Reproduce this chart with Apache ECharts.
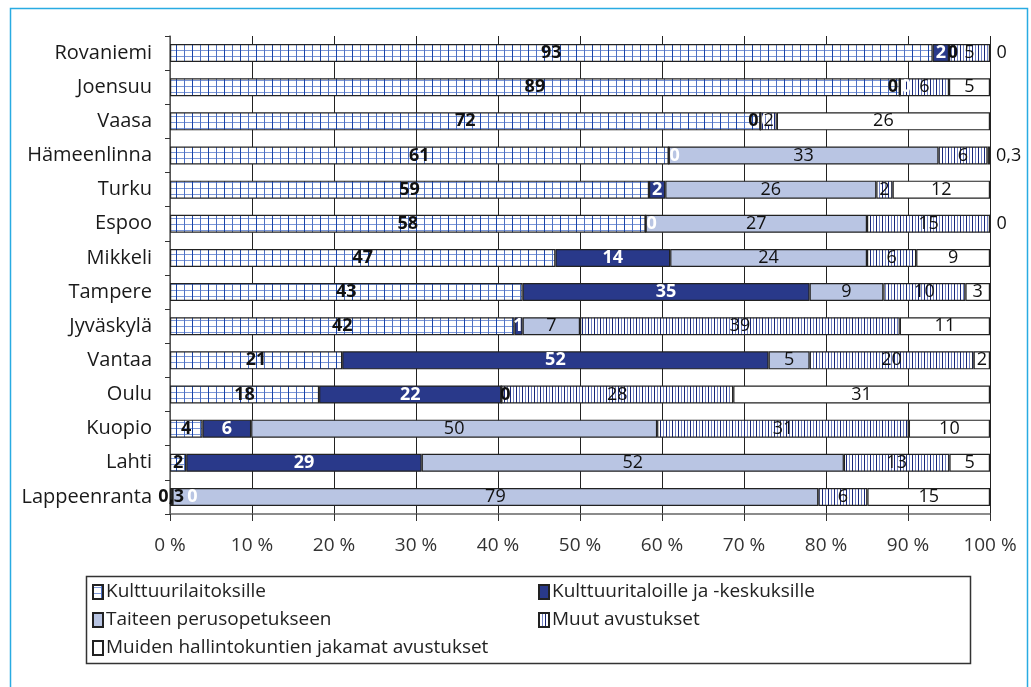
<!DOCTYPE html>
<html>
<head>
<meta charset="utf-8">
<script src="https://cdn.jsdelivr.net/npm/echarts@6/dist/echarts.min.js"></script>
<style>
  html, body { margin: 0; padding: 0; background: #fff; }
  #chart { width: 1031px; height: 687px; }
</style>
</head>
<body>
<div id="chart"></div>
<script>
// kaupungit ylhäältä alas
const cities = ['Rovaniemi', 'Joensuu', 'Vaasa', 'Hämeenlinna', 'Turku', 'Espoo', 'Mikkeli',
  'Tampere', 'Jyväskylä', 'Vantaa', 'Oulu', 'Kuopio', 'Lahti', 'Lappeenranta'];

// osuudet prosentteina (kuten kuvan arvot)
const kulttuurilaitoksille = [93, 89, 72, 61, 59, 58, 47, 43, 42, 21, 18, 4, 2, 0.3];
const kulttuuritaloille = [2, 0, 0, 0, 2, 0, 14, 35, 1, 52, 22, 6, 29, 0];
const taiteenPerusopetukseen = [0, 0, 0, 33, 26, 27, 24, 9, 7, 5, 0, 50, 52, 79];
const muutAvustukset = [5, 6, 2, 6, 2, 15, 6, 10, 39, 20, 28, 31, 13, 6];
const muidenHallintokuntien = [0, 5, 26, 0.3, 12, 0, 9, 3, 11, 2, 31, 10, 5, 15];

const seriesNames = ['Kulttuurilaitoksille', 'Kulttuuritaloille ja -keskuksille',
  'Taiteen perusopetukseen', 'Muut avustukset', 'Muiden hallintokuntien jakamat avustukset'];
const xTicks = [0, 10, 20, 30, 40, 50, 60, 70, 80, 90, 100];

const FONT = '"Open Sans", "Noto Sans", sans-serif';

// kuviot
function makeGrid() {
  const c = document.createElement('canvas');
  c.width = 16; c.height = 6;
  const g = c.getContext('2d');
  g.fillStyle = '#fff'; g.fillRect(0, 0, 16, 6);
  g.fillStyle = '#7d98d6'; g.fillRect(0, 2, 16, 1);
  g.fillStyle = '#1a44aa'; g.fillRect(0, 0, 1, 6);
  g.fillStyle = '#4d70c4'; g.fillRect(8, 0, 1, 6);
  return c;
}
function makeStripes() {
  const c = document.createElement('canvas');
  c.width = 6; c.height = 4;
  const g = c.getContext('2d');
  g.fillStyle = '#fff'; g.fillRect(0, 0, 6, 4);
  g.fillStyle = '#17267a'; g.fillRect(0, 0, 1, 4);
  g.fillStyle = '#7282c4'; g.fillRect(3, 0, 1, 4);
  return c;
}

const fills = [
  { image: makeGrid(), repeat: 'repeat' },
  '#29398a',
  '#b9c5e3',
  { image: makeStripes(), repeat: 'repeat' },
  '#ffffff'
];
const labelColors = ['#111', '#fff', '#111', '#111', '#111'];
const labelWeights = ['bold', 'bold', 'normal', 'normal', 'normal'];

const rows = [kulttuurilaitoksille, kulttuuritaloille, taiteenPerusopetukseen, muutAvustukset, muidenHallintokuntien];
const rowSums = cities.map((_, i) => rows.reduce((s, r) => s + r[i], 0));

function fmt(v) {
  return String(v).replace('.', ',');
}

const series = rows.map((vals, si) => ({
  name: seriesNames[si],
  type: 'bar',
  stack: 'total',
  barWidth: 18,
  itemStyle: { color: fills[si], borderColor: '#222', borderWidth: 1.2 },
  label: {
    show: true,
    position: 'inside',
    color: labelColors[si],
    fontWeight: labelWeights[si],
    fontSize: 18,
    fontFamily: FONT,
    formatter: p => fmt(p.data.raw)
  },
  data: vals.map((v, i) => {
    const item = { value: v / rowSums[i] * 100, raw: v };
    if (si === 4 && v < 1) {
      item.label = { position: 'right', distance: 6 };
    } else if (si === 1 && v === 0) {
      // nolla-arvon teksti hieman oikealle, kauemmas jos edellinen teksti on kohdalla
      item.label = { offset: [kulttuurilaitoksille[i] < 3 ? 20 : 6, 0] };
    } else if (si === 2 && v === 0) {
      item.label = { offset: [kulttuuritaloille[i] === 0 ? -7 : 4, 0], fontWeight: 'bold' };
    }
    return item;
  })
}));

const legendPos = [[92, 580], [538, 580], [92, 608], [538, 608], [92, 636]];

const chart = echarts.init(document.getElementById('chart'));
chart.setOption({
  animation: false,
  backgroundColor: '#fff',
  textStyle: { fontFamily: FONT },
  grid: { left: 170, right: 41, top: 36, bottom: 173 },
  xAxis: {
    type: 'value',
    min: xTicks[0],
    max: xTicks[xTicks.length - 1],
    interval: 10,
    axisLine: { show: true, lineStyle: { color: '#666', width: 1.5 } },
    axisTick: { show: true, length: 7, lineStyle: { color: '#333' } },
    splitLine: { show: true, lineStyle: { color: '#222', width: 1 } },
    axisLabel: { formatter: '{value} %', fontSize: 19, color: '#333', margin: 22, fontFamily: FONT }
  },
  yAxis: {
    type: 'category',
    inverse: true,
    data: cities,
    axisLine: { show: true, lineStyle: { color: '#666', width: 1.5 } },
    axisTick: { show: true, length: 5, lineStyle: { color: '#333' } },
    axisLabel: { fontSize: 20, color: '#1a1a1a', margin: 18, fontFamily: FONT }
  },
  legend: seriesNames.map((n, i) => ({
    data: [n],
    left: legendPos[i][0],
    top: legendPos[i][1],
    padding: 0,
    icon: 'rect',
    itemWidth: 10,
    itemHeight: 14,
    selectedMode: false,
    textStyle: { fontSize: 19, color: '#222', lineHeight: 24, fontFamily: FONT, padding: [0, 0, 0, -2] }
  })),
  graphic: [
    {
      type: 'rect',
      shape: { x: 86.5, y: 576.5, width: 884, height: 87 },
      style: { fill: null, stroke: '#333', lineWidth: 1.5 },
      z: -1
    },
    {
      type: 'rect',
      shape: { x: 10.5, y: 8.5, width: 1017, height: 700 },
      style: { fill: null, stroke: '#29abe2', lineWidth: 1.5 },
      z: -1
    }
  ],
  series: series
});
</script>
</body>
</html>
